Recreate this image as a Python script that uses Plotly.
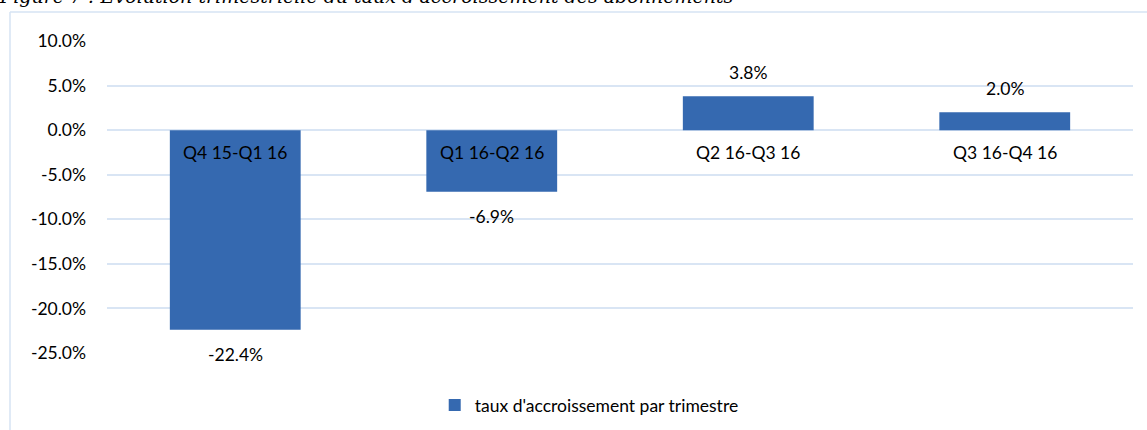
import plotly.graph_objects as go

categories = ["Q4 15-Q1 16", "Q1 16-Q2 16", "Q2 16-Q3 16", "Q3 16-Q4 16"]
values = [-0.224, -0.069, 0.038, 0.020]
series_name = "taux d'accroissement par trimestre"
caption = "Figure 7 : Évolution trimestrielle du taux d'accroissement des abonnements"
tick_values = [0.10, 0.05, 0.0, -0.05, -0.10, -0.15, -0.20, -0.25]
tick_labels = ["10.0%", "5.0%", "0.0%", "-5.0%", "-10.0%", "-15.0%", "-20.0%", "-25.0%"]

FONT = "Lato"
FS = 17.5
W, H = 1147, 430
L, R, T, B = 107, 14, 41, 77
pw = W - L - R
ph = H - T - B


def px_x(px):
    return (px - L) / pw


def px_y(py):
    return (H - B - py) / ph


fig = go.Figure()
fig.add_trace(go.Bar(
    x=categories, y=values, name=series_name,
    width=0.51,
    marker=dict(color="#3569b0", line=dict(width=0)),
    showlegend=True,
))

# category labels near the zero line
for c in categories:
    fig.add_annotation(x=c, y=0, text=c, showarrow=False, yanchor="middle",
                       yshift=-22, font=dict(family=FONT, size=FS, color="#000000"))
# data labels
for c, v in zip(categories, values):
    fig.add_annotation(x=c, y=v, text=f"{v*100:.1f}%", showarrow=False, yanchor="middle",
                       yshift=24 if v >= 0 else -25,
                       font=dict(family=FONT, size=FS, color="#000000"))

# caption at top (partially clipped)
fig.add_annotation(xref="paper", yref="paper", x=px_x(-3), y=px_y(-4),
                   xanchor="left", yanchor="middle", text=f"<i>{caption}</i>", showarrow=False,
                   font=dict(family="DejaVu Serif", size=19, color="#000000"))

# chart border (left and top)
fig.add_shape(type="line", xref="paper", yref="paper",
              x0=px_x(10), x1=px_x(W + 5), y0=px_y(12), y1=px_y(12),
              line=dict(color="#d6e3f3", width=1.5))
fig.add_shape(type="line", xref="paper", yref="paper",
              x0=px_x(10), x1=px_x(10), y0=px_y(12), y1=px_y(H + 5),
              line=dict(color="#d6e3f3", width=1.5))

fig.update_layout(
    width=W, height=H,
    margin=dict(l=L, r=R, t=T, b=B, autoexpand=False),
    paper_bgcolor="white", plot_bgcolor="white",
    font=dict(family=FONT, size=FS, color="#000000"),
    xaxis=dict(showticklabels=False, showgrid=False, zeroline=False, showline=False),
    yaxis=dict(range=[-0.25, 0.10], tickmode="array", tickvals=tick_values, ticktext=tick_labels,
               showgrid=True, gridcolor="#d9e5f4", gridwidth=1.5,
               zeroline=False, showline=False, ticks="", ticklabelstandoff=20,
               tickfont=dict(family=FONT, size=FS, color="#000000")),
    legend=dict(orientation="h", x=0.47, xanchor="center", y=px_y(405), yanchor="middle",
                font=dict(family=FONT, size=FS, color="#000000"), bgcolor="rgba(0,0,0,0)",
                itemwidth=30),
    showlegend=True,
    bargap=0.49,
)

fig.write_html("out.html", config={"displayModeBar": False},
               post_script="document.body.style.margin='0';document.body.style.overflow='hidden';")
